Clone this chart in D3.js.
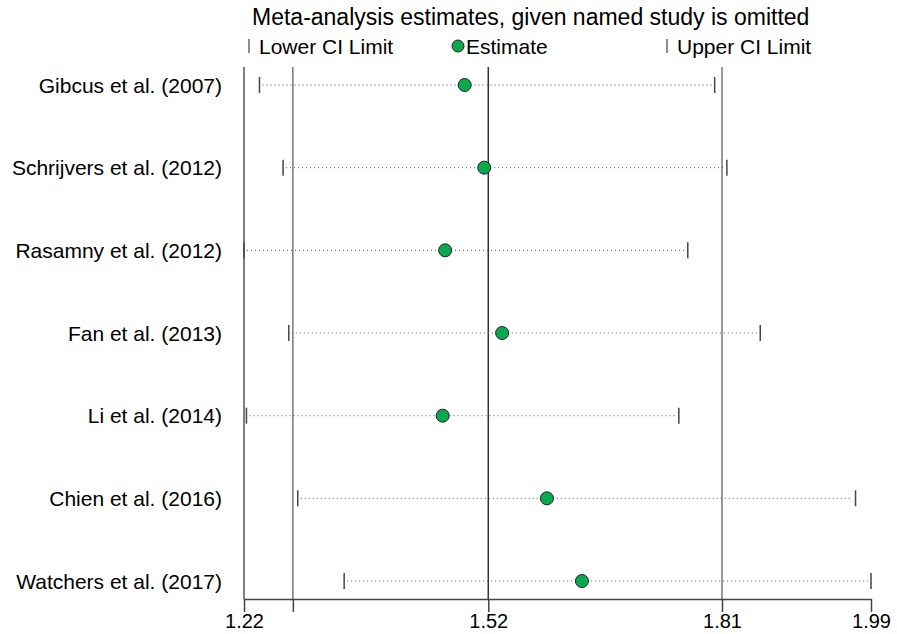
<!DOCTYPE html>
<html>
<head>
<meta charset="utf-8">
<script src="https://cdn.jsdelivr.net/npm/d3@7"></script>
<style>
  html, body { margin: 0; padding: 0; background: #fff; }
  svg text { font-family: Arial, "Liberation Sans", sans-serif; fill: #000; }
</style>
</head>
<body>
<svg id="chart" width="897" height="634"></svg>
<script>
// Influence analysis: pooled estimate with each study left out in turn
const studies = [
  "Gibcus et al. (2007)",
  "Schrijvers et al. (2012)",
  "Rasamny et al. (2012)",
  "Fan et al. (2013)",
  "Li et al. (2014)",
  "Chien et al. (2016)",
  "Watchers et al. (2017)"
];
const estimates = [1.491, 1.515, 1.467, 1.537, 1.464, 1.592, 1.635];
const lowerCI   = [1.239, 1.268, 1.220, 1.275, 1.223, 1.286, 1.343];
const upperCI   = [1.798, 1.813, 1.765, 1.854, 1.754, 1.971, 1.990];

// Overall (all studies) lower limit, estimate, upper limit
const overall = [1.28, 1.52, 1.807];
// Axis ticks: range ends plus the overall values
const tickValues = [1.22, 1.28, 1.52, 1.807, 1.99];
const tickLabels = ["1.22", "", "1.52", "1.81", "1.99"];

const svg = d3.select("#chart");
const x = d3.scaleLinear().domain([1.22, 1.99]).range([244, 871]);
const y = d3.scalePoint().domain(studies).range([85, 581]);
const plotTop = 67, plotBottom = 599;
const labelSize = "21px";

// Left frame line
svg.append("line")
  .attr("x1", x(1.22)).attr("x2", x(1.22))
  .attr("y1", plotTop).attr("y2", plotBottom)
  .attr("stroke", "#555").attr("stroke-width", 1.5);

// Reference lines at the overall limits and estimate
svg.selectAll("line.ref").data(overall).join("line")
  .attr("class", "ref")
  .attr("x1", d => x(d)).attr("x2", d => x(d))
  .attr("y1", plotTop).attr("y2", plotBottom)
  .attr("stroke", (d, i) => i === 1 ? "#333" : "#777")
  .attr("stroke-width", 1.5);

// Bottom axis
const axis = d3.axisBottom(x)
  .tickValues(tickValues)
  .tickFormat((d, i) => tickLabels[i])
  .tickSizeInner(13).tickSizeOuter(0).tickPadding(2);
const gAxis = svg.append("g")
  .attr("transform", `translate(0,${plotBottom})`)
  .call(axis);
gAxis.select(".domain").attr("stroke", "#444").attr("stroke-width", 1.5);
gAxis.selectAll(".tick line").attr("stroke", "#444").attr("stroke-width", 1.5);
gAxis.selectAll(".tick text")
  .style("font-size", "20px")
  .style("font-family", "Arial, 'Liberation Sans', sans-serif")
  .attr("fill", "#000");

const rows = studies.map((s, i) => ({
  study: s, est: estimates[i], lo: lowerCI[i], hi: upperCI[i]
}));

// Dotted interval lines
svg.selectAll("line.ci").data(rows).join("line")
  .attr("class", "ci")
  .attr("x1", d => x(d.lo) + 3).attr("x2", d => x(d.hi) - 3)
  .attr("y1", d => y(d.study)).attr("y2", d => y(d.study))
  .attr("stroke", "#555").attr("stroke-width", 1)
  .attr("stroke-dasharray", "1,3");

// Interval end caps
const capH = 8;
svg.selectAll("line.lo").data(rows).join("line")
  .attr("class", "lo")
  .attr("x1", d => x(d.lo)).attr("x2", d => x(d.lo))
  .attr("y1", d => y(d.study) - capH).attr("y2", d => y(d.study) + capH)
  .attr("stroke", "#444").attr("stroke-width", 1.5);
svg.selectAll("line.hi").data(rows).join("line")
  .attr("class", "hi")
  .attr("x1", d => x(d.hi)).attr("x2", d => x(d.hi))
  .attr("y1", d => y(d.study) - capH).attr("y2", d => y(d.study) + capH)
  .attr("stroke", "#444").attr("stroke-width", 1.5);

// Estimate markers
svg.selectAll("circle.est").data(rows).join("circle")
  .attr("class", "est")
  .attr("cx", d => x(d.est)).attr("cy", d => y(d.study))
  .attr("r", 6.5)
  .attr("fill", "#0aa84f").attr("stroke", "#222").attr("stroke-width", 1);

// Study labels
svg.selectAll("text.study").data(rows).join("text")
  .attr("class", "study")
  .attr("x", 222).attr("y", d => y(d.study))
  .attr("dy", "0.36em")
  .attr("text-anchor", "end")
  .style("font-size", labelSize)
  .text(d => d.study);

// Title and legend
svg.append("text")
  .attr("x", 252).attr("y", 25)
  .style("font-size", "23px")
  .text("Meta-analysis estimates, given named study is omitted");

const legendY = 46;
const legend = [
  { kind: "tick", x: 249, label: "Lower CI Limit", tx: 259 },
  { kind: "dot", x: 458, label: "Estimate", tx: 466 },
  { kind: "tick", x: 667, label: "Upper CI Limit", tx: 677 }
];
legend.forEach(l => {
  if (l.kind === "tick") {
    svg.append("line")
      .attr("x1", l.x).attr("x2", l.x)
      .attr("y1", legendY - 7).attr("y2", legendY + 7)
      .attr("stroke", "#444").attr("stroke-width", 1.2);
  } else {
    svg.append("circle")
      .attr("cx", l.x).attr("cy", legendY).attr("r", 6)
      .attr("fill", "#0aa84f").attr("stroke", "#222").attr("stroke-width", 1);
  }
  svg.append("text")
    .attr("x", l.tx).attr("y", legendY).attr("dy", "0.36em")
    .style("font-size", labelSize)
    .text(l.label);
});
</script>
</body>
</html>
